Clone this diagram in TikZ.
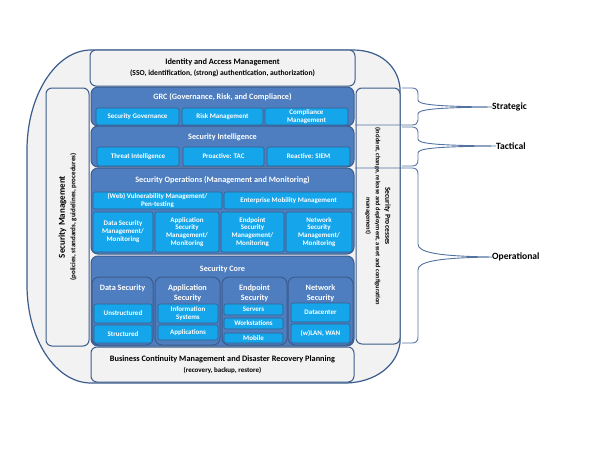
\documentclass[tikz,border=0pt]{standalone}
\usepackage{fontspec}
\setmainfont{Carlito}
\definecolor{edge}{HTML}{3B5C8C}
\definecolor{panel}{HTML}{4F7EC0}
\definecolor{cell}{HTML}{14A5EA}
\definecolor{paper}{HTML}{F2F2F2}
\definecolor{brace}{HTML}{52729F}
\newcommand\subline{\fontsize{7}{8}\selectfont}
\begin{document}
\begin{tikzpicture}[x=1pt,y=-1pt,
  sz/.style 2 args={minimum width=#1pt,minimum height=#2pt},
  frame/.style={draw=edge,line width=1.2pt,fill=paper},
  greybox/.style={draw=edge,line width=1pt,fill=paper,rounded corners=6pt,inner sep=0pt},
  pane/.style={draw=edge,line width=1pt,fill=panel,rounded corners=7pt,inner sep=0pt},
  cell/.style={draw=edge,line width=0.6pt,fill=cell,rounded corners=2pt,inner sep=0pt,
    text=white,align=center,font=\fontsize{7}{7.9}\selectfont\bfseries},
  head/.style={text=white,align=center,inner sep=0pt,font=\fontsize{8.2}{9.5}\selectfont\bfseries},
  dark/.style={text=black,align=center,inner sep=0pt,font=\fontsize{8.3}{11}\selectfont\bfseries},
  tag/.style={text=black,inner sep=0pt,anchor=west,font=\fontsize{9.6}{11}\selectfont\bfseries},
  brace/.style={draw=brace,line width=0.9pt}]
\useasboundingbox (0,0) rectangle (600,450);

% outer frame
\draw[frame] (91,50) -- (353,50) .. controls (380,50) and (398,66) .. (400,88)
  -- (400,343) .. controls (397,366) and (375,382) .. (347,383) -- (91,383)
  .. controls (56,383) and (27,340) .. (27,285) -- (27,150)
  .. controls (27,95) and (56,50) .. (91,50) -- cycle;

% side bars, top and bottom
\node[greybox,sz={43}{258}] (sm) at (67.5,217) {};
\node[greybox,sz={44}{256}] (sp) at (378,216) {};
\node[greybox,sz={265}{36}] (iam) at (222.5,68) {};
\node[greybox,sz={263}{35}] (bcm) at (222.5,364.5) {};
\node[dark] (iamt) at (iam) {Identity and Access Management\\{\fontsize{7.6}{8}\selectfont(SSO, identification, (strong) authentication, authorization)}};
\node[dark] (bcmt) at (bcm) {Business Continuity Management and Disaster Recovery Planning\\{\subline(recovery, backup, restore)}};
\node[dark,rotate=90,font=\fontsize{9}{10.5}\selectfont\bfseries] (smt) at (sm) {Security Management\\{\subline(policies, standards, guidelines, procedures)}};
\node[dark,rotate=-90,font=\fontsize{6.4}{9.5}\selectfont\bfseries] (spt) at (sp) {{\fontsize{7.6}{9.5}\selectfont Security Processes}\\(incident, change, release and deployment, asset and configuration\\management)};

% blue panels
\node[pane,sz={263}{39}] (grc) at (222.5,106.5) {};
\node[pane,sz={263}{41}] (si) at (222.5,146.5) {};
\node[pane,sz={263}{86}] (so) at (222.5,211) {};
\node[pane,sz={263}{90}] (sc) at (222.5,301) {};
\node[head] (grct) at (222.5,97) {GRC (Governance, Risk, and Compliance)};
\node[head] (sit) at (222.5,137) {Security Intelligence};
\node[head] (sot) at (222.5,180) {Security Operations (Management and Monitoring)};
\node[head] (sct) at (222.5,269) {Security Core};

% GRC
\node[cell,sz={83}{17}] (g1) at (137.5,116.5) {Security Governance};
\node[cell,sz={81}{17}] (g2) at (222.5,116.5) {Risk Management};
\node[cell,sz={83}{17}] (g3) at (306.5,116.5) {Compliance\\Management};

% Security Intelligence
\node[cell,sz={82}{19}] (i1) at (138,156.5) {Threat Intelligence};
\node[cell,sz={81}{19}] (i2) at (223.5,156.5) {Proactive: TAC};
\node[cell,sz={83}{19}] (i3) at (308.5,156.5) {Reactive: SIEM};

% Security Operations
\node[cell,sz={129}{17}] (o1) at (157.5,200.5) {(Web) Vulnerability Management/\\Pen-testing};
\node[cell,sz={129}{17}] (o2) at (288.5,200.5) {Enterprise Mobility Management};
\node[cell,sz={60}{40}] (o3) at (123,232) {Data Security\\Management/\\Monitoring};
\node[cell,sz={64}{40}] (o4) at (187,232) {Application\\Security\\Management/\\Monitoring};
\node[cell,sz={63}{40}] (o5) at (252.5,232) {Endpoint\\Security\\Management/\\Monitoring};
\node[cell,sz={66}{40}] (o6) at (319,232) {Network\\Security\\Management/\\Monitoring};

% Security Core columns
\node[pane,sz={61}{68}] (c1) at (122.5,311) {};
\node[pane,sz={65}{68}] (c2) at (187.5,311) {};
\node[pane,sz={65}{68}] (c3) at (254.5,311) {};
\node[pane,sz={65}{68}] (c4) at (320.5,311) {};
\node[head,font=\fontsize{8.2}{10}\selectfont\bfseries] (c1t) at (122.5,288) {Data Security};
\node[head,font=\fontsize{8.2}{10}\selectfont\bfseries] (c2t) at (187.5,293) {Application\\Security};
\node[head,font=\fontsize{8.2}{10}\selectfont\bfseries] (c3t) at (254.5,293) {Endpoint\\Security};
\node[head,font=\fontsize{8.2}{10}\selectfont\bfseries] (c4t) at (320.5,293) {Network\\Security};
\node[cell,sz={58}{19}] (d1) at (123,313.5) {Unstructured};
\node[cell,sz={58}{18}] (d2) at (123,334) {Structured};
\node[cell,sz={60}{19}] (a1) at (188,313.5) {Information\\Systems};
\node[cell,sz={60}{15}] (a2) at (188,332.5) {Applications};
\node[cell,sz={59}{11}] (e1) at (253.5,309.5) {Servers};
\node[cell,sz={59}{11}] (e2) at (253.5,323.5) {Workstations};
\node[cell,sz={59}{10}] (e3) at (253.5,338) {Mobile};
\node[cell,sz={59}{19}] (n1) at (320.5,312.5) {Datacenter};
\node[cell,sz={59}{19}] (n2) at (320.5,333.5) {(w)LAN, WAN};

% levels
\node[tag] (st) at (492,107) {Strategic};
\node[tag] (ta) at (496,146) {Tactical};
\node[tag] (op) at (492,257) {Operational};
\draw[brace] (402,88) -- (412,88) .. controls (416,88) and (418,90) .. (418,94) -- (418,100)
  .. controls (418,104) and (430,106.4) .. (st.west) .. controls (430,107.6) and (418,110) .. (418,114)
  -- (418,120) .. controls (418,123) and (416,125) .. (412,125) -- (355,125);
\draw[brace] (402,127) -- (412,127) .. controls (416,127) and (418,129) .. (418,133) -- (418,139)
  .. controls (418,143) and (430,145.4) .. (ta.west) .. controls (430,146.6) and (418,149) .. (418,153)
  -- (418,160) .. controls (418,164) and (416,166) .. (412,166) -- (402,166);
\draw[brace] (355,168) -- (412,168) .. controls (416,168) and (418,170) .. (418,174) -- (418,244)
  .. controls (418,252) and (435,256.2) .. (op.west) .. controls (435,257.8) and (418,262) .. (418,270)
  -- (418,337) .. controls (418,341) and (416,343) .. (412,343) -- (402,343);
\end{tikzpicture}
\end{document}
